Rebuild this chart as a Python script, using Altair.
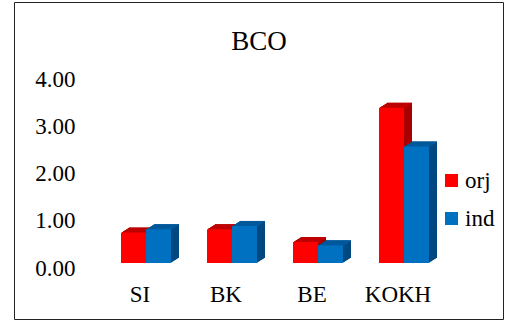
import altair as alt
import pandas as pd

categories = ["SI", "BK", "BE", "KOKH"]
series = ["orj", "ind"]
orj_values = [0.75, 0.82, 0.55, 3.39]
ind_values = [0.82, 0.89, 0.48, 2.57]
y_ticks = [0, 1, 2, 3, 4]
title_text = "BCO"

front_colors = {"orj": "#FF0000", "ind": "#0070C0"}
top_colors = {"orj": "#C00000", "ind": "#005A9E"}
side_colors = {"orj": "#A80000", "ind": "#00487F"}

FONT = "Liberation Serif"

rows = []
for c, o, i in zip(categories, orj_values, ind_values):
    rows.append({"cat": c, "series": "orj", "value": o})
    rows.append({"cat": c, "series": "ind", "value": i})
df = pd.DataFrame(rows)

BAR_W = 25
DEPTH_X = 8
DEPTH_Y = 5.0
STEPS = 8
series_shift = {"orj": -BAR_W / 2, "ind": BAR_W / 2}


def enc_x():
    return alt.X(
        "cat:N", sort=categories, title=None,
        scale=alt.Scale(paddingInner=0.4186, paddingOuter=0.2093),
        axis=alt.Axis(labelAngle=0, ticks=False, domain=False, grid=False,
                      labelFont=FONT, labelFontSize=23, labelColor="#000000",
                      labelOffset=-6, labelPadding=20),
    )


def enc_y():
    return alt.Y(
        "value:Q", stack=False, title=None,
        scale=alt.Scale(domain=[0, 4], nice=False),
        axis=alt.Axis(values=y_ticks, format=".2f", ticks=False, domain=False,
                      grid=False, labelFont=FONT, labelFontSize=23,
                      labelColor="#000000", labelPadding=28, labelOffset=5),
    )


base = alt.Chart(df)
layers = []
for s in series:
    sub = base.transform_filter(alt.datum.series == s)
    # side / depth extrusion
    for k in range(1, STEPS + 1):
        dx = k * DEPTH_X / STEPS
        dy = k * DEPTH_Y / STEPS
        layers.append(
            sub.mark_bar(color=side_colors[s], width=BAR_W,
                         xOffset=series_shift[s] + dx,
                         yOffset=DEPTH_Y - dy, y2Offset=-dy)
            .encode(x=enc_x(), y=enc_y(), y2=alt.datum(0))
        )
    # top face strips
    for k in range(1, STEPS + 1):
        dx = k * DEPTH_X / STEPS
        dy = k * DEPTH_Y / STEPS
        dy_prev = (k - 1) * DEPTH_Y / STEPS
        layers.append(
            sub.mark_bar(color=top_colors[s], width=BAR_W,
                         xOffset=series_shift[s] + dx,
                         yOffset=DEPTH_Y - dy, y2Offset=DEPTH_Y - dy_prev + 0.3)
            .encode(x=enc_x(), y=enc_y(), y2=alt.Y2("value:Q"))
        )

for s in series:
    sub = base.transform_filter(alt.datum.series == s)
    layers.append(
        sub.mark_bar(width=BAR_W, xOffset=series_shift[s], yOffset=DEPTH_Y).encode(
            x=enc_x(), y=enc_y(), y2=alt.datum(0),
            color=alt.Color(
                "series:N", title=None,
                scale=alt.Scale(domain=series,
                                range=[front_colors[v] for v in series]),
                legend=alt.Legend(orient="none", legendX=337, legendY=95,
                                  symbolType="square", symbolSize=169,
                                  symbolStrokeWidth=0, labelFont=FONT,
                                  labelFontSize=23, labelColor="#000000",
                                  padding=0, rowPadding=14, labelOffset=2),
            ),
        )
    )

title = alt.Chart(alt.Data(values=[{"t": title_text}])).mark_text(
    font=FONT, fontSize=27, color="#000000", align="center",
    baseline="alphabetic"
).encode(text="t:N", x=alt.value(156), y=alt.value(-24))
layers.append(title)

border = alt.Chart(alt.Data(values=[{"a": 1}])).mark_rect(
    fill="transparent", stroke="#222222", strokeWidth=1
).encode(
    x=alt.value(-88.5), x2=alt.value(400.5),
    y=alt.value(-71.5), y2=alt.value(245.5),
)
layers.append(border)

chart = alt.layer(*layers).properties(
    width=344, height=189,
    padding={"left": 103, "top": 74, "right": 59, "bottom": 61},
    autosize=alt.AutoSizeParams(type="none"),
    background="#FFFFFF",
).configure_view(stroke="transparent")

chart.save("out.html", embed_options={"renderer": "svg", "actions": False})
